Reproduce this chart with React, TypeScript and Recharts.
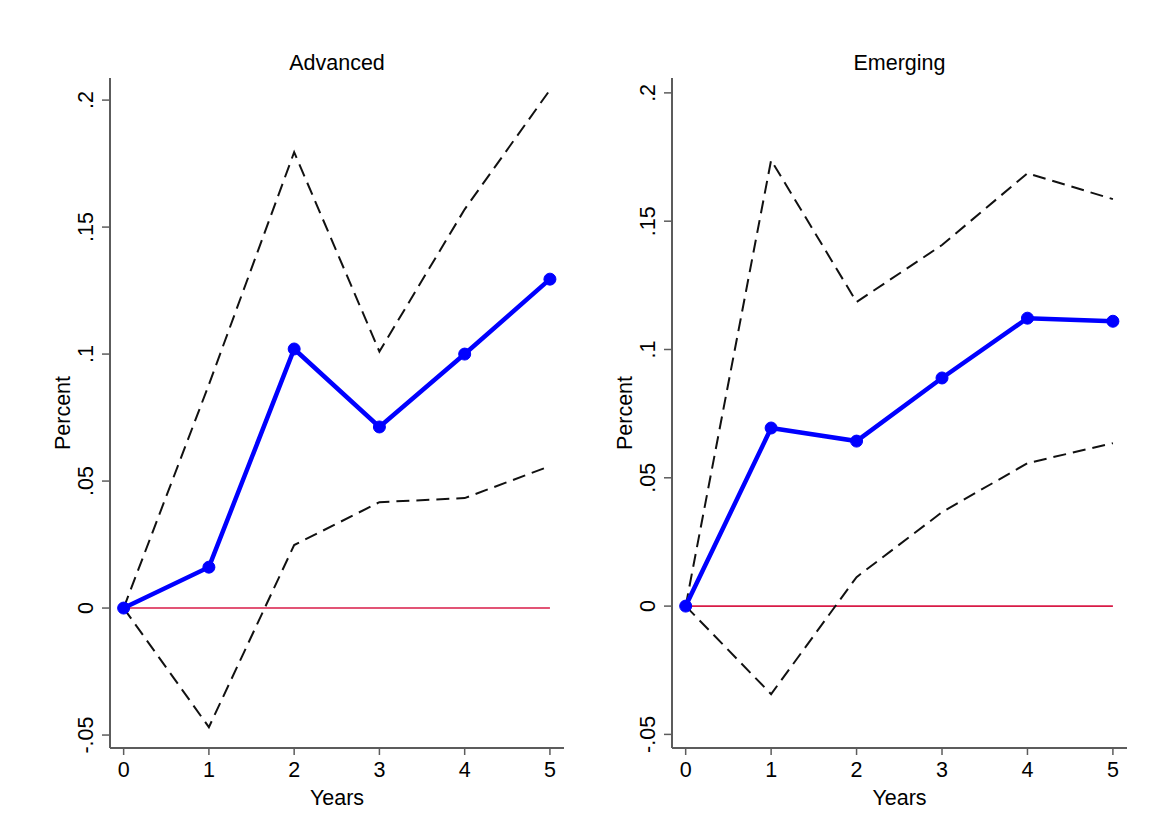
import { LineChart, Line, XAxis, YAxis, Label } from "recharts";

// impulse responses by horizon, with 90% bands
const years = [0, 1, 2, 3, 4, 5];

const advancedEst = [0, 0.0161, 0.102, 0.0713, 0.1, 0.1295];
const advancedHi = [0, 0.088, 0.1795, 0.101, 0.157, 0.204];
const advancedLo = [0, -0.0469, 0.0248, 0.0417, 0.0433, 0.0559];

const emergingEst = [0, 0.0694, 0.0643, 0.0889, 0.1122, 0.111];
const emergingHi = [0, 0.1738, 0.1185, 0.1407, 0.1687, 0.1586];
const emergingLo = [0, -0.0343, 0.0113, 0.0366, 0.0557, 0.0635];

const yTicks = [-0.05, 0, 0.05, 0.1, 0.15, 0.2];
const yTickLabels = ["-.05", "0", ".05", ".1", ".15", ".2"];

const FONT = '"Liberation Sans", Arial, sans-serif';
const FS = 21.5;
const AXIS = "#5c5c5c";

function buildRows(est: number[], lo: number[], hi: number[]) {
  return years.map((y, i) => ({ year: y, est: est[i], lo: lo[i], hi: hi[i], zero: 0 }));
}

function XTick({ x, y, payload }: any) {
  return (
    <text x={x} y={y} dy={20} textAnchor="middle" fontSize={FS} fontFamily={FONT} fill="#000">
      {payload.value}
    </text>
  );
}

function YTick({ x, y, payload }: any) {
  const i = yTicks.indexOf(payload.value);
  const cx = x - 7;
  return (
    <text x={cx} y={y} textAnchor="middle" fontSize={FS} fontFamily={FONT} fill="#000" transform={`rotate(-90, ${cx}, ${y})`}>
      {i >= 0 ? yTickLabels[i] : payload.value}
    </text>
  );
}

function Panel({
  title,
  rows,
  left,
  width,
  yAxisWidth,
  yDomain,
}: {
  title: string;
  rows: any[];
  left: number;
  width: number;
  yAxisWidth: number;
  yDomain: [number, number];
}) {
  return (
    <div style={{ position: "absolute", left, top: 0, width, height: 826 }}>
      <div
        style={{
          position: "absolute",
          left: yAxisWidth,
          width: width - yAxisWidth - 16,
          top: 50,
          textAlign: "center",
          fontFamily: FONT,
          fontSize: FS,
          lineHeight: "26px",
        }}
      >
        {title}
      </div>
      <LineChart width={width} height={826} data={rows} margin={{ top: 78, right: 16, bottom: 18, left: 0 }}>
        <XAxis
          dataKey="year"
          type="number"
          domain={[-0.16, 5.165]}
          ticks={years}
          allowDataOverflow
          height={60}
          stroke={AXIS}
          strokeWidth={2}
          tickSize={7}
          tickLine={{ stroke: AXIS, strokeWidth: 1.5 }}
          tick={<XTick />}
        >
          <Label
            content={({ viewBox }: any) => (
              <text
                x={viewBox.x + viewBox.width / 2}
                y={viewBox.y + 57}
                textAnchor="middle"
                fontSize={FS}
                fontFamily={FONT}
                fill="#000"
              >
                Years
              </text>
            )}
          />
        </XAxis>
        <YAxis
          type="number"
          domain={yDomain}
          ticks={yTicks}
          allowDataOverflow
          width={yAxisWidth}
          stroke={AXIS}
          strokeWidth={2}
          tickSize={8}
          tickMargin={2}
          tickLine={{ stroke: AXIS, strokeWidth: 1.5 }}
          tick={<YTick />}
        >
          <Label
            content={({ viewBox }: any) => {
              const cx = viewBox.x + viewBox.width - 40;
              const cy = viewBox.y + viewBox.height / 2;
              return (
                <text
                  x={cx}
                  y={cy}
                  textAnchor="middle"
                  fontSize={FS}
                  fontFamily={FONT}
                  fill="#000"
                  transform={`rotate(-90, ${cx}, ${cy})`}
                >
                  Percent
                </text>
              );
            }}
          />
        </YAxis>
        <Line dataKey="zero" stroke="#d81b47" strokeWidth={1.6} dot={false} isAnimationActive={false} />
        <Line dataKey="hi" stroke="#111" strokeWidth={2} strokeDasharray="13 7" dot={false} isAnimationActive={false} />
        <Line dataKey="lo" stroke="#111" strokeWidth={2} strokeDasharray="13 7" dot={false} isAnimationActive={false} />
        <Line
          dataKey="est"
          stroke="#0000ff"
          strokeWidth={4.5}
          dot={{ r: 6, fill: "#0000ff", stroke: "#0000ff", strokeWidth: 1 }}
          isAnimationActive={false}
        />
      </LineChart>
    </div>
  );
}

export default function App() {
  return (
    <div style={{ position: "fixed", left: 0, top: 0, width: 1160, height: 826, background: "#fff" }}>
      <Panel
        title="Advanced"
        rows={buildRows(advancedEst, advancedLo, advancedHi)}
        left={0}
        width={580}
        yAxisWidth={110}
        yDomain={[-0.0551, 0.2087]}
      />
      <Panel
        title="Emerging"
        rows={buildRows(emergingEst, emergingLo, emergingHi)}
        left={580}
        width={563}
        yAxisWidth={92}
        yDomain={[-0.0553, 0.2058]}
      />
    </div>
  );
}
